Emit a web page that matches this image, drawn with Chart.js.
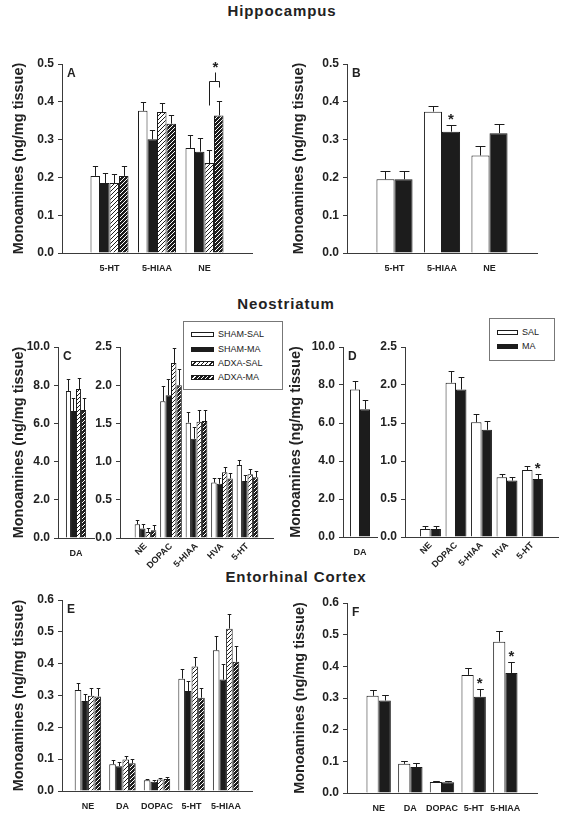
<!DOCTYPE html>
<html>
<head>
<meta charset="utf-8">
<script src="https://cdn.jsdelivr.net/npm/chart.js@4.4.1/dist/chart.umd.min.js"></script>
<style>
  body { margin: 0; background: #fff; }
  #page { position: relative; width: 563px; height: 815px; overflow: hidden; font-family: "Liberation Sans", Arial, sans-serif; color: #222; }
  #page canvas { position: absolute; }
  .region { position: absolute; transform: translateX(-50%); white-space: nowrap; font-weight: bold; font-size: 15px; line-height: 15px; letter-spacing: 0.9px; }
  .legend { position: absolute; border: 1px solid #777; background: #fff; z-index: 2; }
  .legend span { position: absolute; font-size: 9px; line-height: 9px; white-space: nowrap; }
  .legend i { position: absolute; box-sizing: border-box; border: 1px solid #1c1c1c; }
</style>
</head>
<body>
<div id="page"></div>
<script>
// ---- data ----
const GROUPS4 = ['SHAM-SAL', 'SHAM-MA', 'ADXA-SAL', 'ADXA-MA'];
const GROUPS2 = ['SAL', 'MA'];
const Y_LABEL = 'Monoamines (ng/mg tissue)';

// Hippocampus
const HIPPO_CATS = ['5-HT', '5-HIAA', 'NE'];
const HIPPO_Y_TICKS = [0, 0.1, 0.2, 0.3, 0.4, 0.5];
const A_SHAM_SAL = [0.204, 0.376, 0.278];
const A_SHAM_SAL_SEM = [0.025, 0.023, 0.034];
const A_SHAM_MA = [0.185, 0.301, 0.268];
const A_SHAM_MA_SEM = [0.026, 0.024, 0.036];
const A_ADXA_SAL = [0.185, 0.373, 0.238];
const A_ADXA_SAL_SEM = [0.025, 0.023, 0.035];
const A_ADXA_MA = [0.204, 0.342, 0.364];
const A_ADXA_MA_SEM = [0.027, 0.024, 0.037];
const B_SAL = [0.195, 0.374, 0.258];
const B_SAL_SEM = [0.021, 0.016, 0.024];
const B_MA = [0.195, 0.321, 0.317];
const B_MA_SEM = [0.023, 0.018, 0.025];

// Neostriatum
const DA_CATS = ['DA'];
const DA_Y_TICKS = [0, 2, 4, 6, 8, 10];
const STRI_CATS = ['NE', 'DOPAC', '5-HIAA', 'HVA', '5-HT'];
const STRI_Y_TICKS = [0, 0.5, 1, 1.5, 2, 2.5];
const C_DA = [7.7, 6.65, 7.8, 6.7];
const C_DA_SEM = [0.6, 0.7, 0.6, 0.65];
const C_SHAM_SAL = [0.18, 1.79, 1.51, 0.725, 0.955];
const C_SHAM_SAL_SEM = [0.055, 0.2, 0.14, 0.065, 0.065];
const C_SHAM_MA = [0.125, 1.87, 1.30, 0.71, 0.745];
const C_SHAM_MA_SEM = [0.06, 0.21, 0.15, 0.07, 0.08];
const C_ADXA_SAL = [0.08, 2.29, 1.52, 0.86, 0.835];
const C_ADXA_SAL_SEM = [0.045, 0.2, 0.15, 0.065, 0.065];
const C_ADXA_MA = [0.10, 2.0, 1.53, 0.78, 0.795];
const C_ADXA_MA_SEM = [0.065, 0.21, 0.15, 0.075, 0.08];
const D_DA = [7.76, 6.73];
const D_DA_SEM = [0.44, 0.49];
const D_SAL = [0.105, 2.03, 1.51, 0.785, 0.88];
const D_SAL_SEM = [0.043, 0.15, 0.11, 0.045, 0.06];
const D_MA = [0.105, 1.94, 1.41, 0.742, 0.763];
const D_MA_SEM = [0.043, 0.16, 0.11, 0.052, 0.062];

// Entorhinal cortex
const ENTO_CATS = ['NE', 'DA', 'DOPAC', '5-HT', '5-HIAA'];
const ENTO_Y_TICKS = [0, 0.1, 0.2, 0.3, 0.4, 0.5, 0.6];
const E_SHAM_SAL = [0.317, 0.084, 0.034, 0.353, 0.442];
const E_SHAM_SAL_SEM = [0.021, 0.013, 0.003, 0.029, 0.046];
const E_SHAM_MA = [0.283, 0.078, 0.029, 0.314, 0.350];
const E_SHAM_MA_SEM = [0.022, 0.013, 0.004, 0.032, 0.048];
const E_ADXA_SAL = [0.299, 0.099, 0.036, 0.391, 0.510];
const E_ADXA_SAL_SEM = [0.023, 0.012, 0.004, 0.029, 0.047];
const E_ADXA_MA = [0.297, 0.087, 0.038, 0.293, 0.406];
const E_ADXA_MA_SEM = [0.025, 0.015, 0.006, 0.031, 0.050];
const F_SAL = [0.307, 0.092, 0.035, 0.373, 0.478];
const F_SAL_SEM = [0.019, 0.008, 0.003, 0.021, 0.033];
const F_MA = [0.292, 0.082, 0.034, 0.304, 0.379];
const F_MA_SEM = [0.016, 0.012, 0.004, 0.023, 0.036];

// ---- drawing ----
Chart.defaults.font.family = '"Liberation Sans", Arial, sans-serif';
Chart.defaults.color = '#222';
Chart.defaults.animation = false;

const page = document.getElementById('page');
const INK = '#1c1c1c';
const AXIS = '#3a3a3a';

function hatch(bg, fg) {
  const c = document.createElement('canvas');
  c.width = 4; c.height = 4;
  const g = c.getContext('2d');
  g.fillStyle = bg; g.fillRect(0, 0, 4, 4);
  g.strokeStyle = fg; g.lineWidth = 1;
  g.beginPath();
  g.moveTo(0, 4); g.lineTo(4, 0);
  g.moveTo(-1, 1); g.lineTo(1, -1);
  g.moveTo(3, 5); g.lineTo(5, 3);
  g.stroke();
  return g.createPattern(c, 'repeat');
}
const FILL4 = ['#fff', INK, hatch('#fff', INK), hatch(INK, '#fff')];
const FILL2 = ['#fff', INK];

// error bars (upper half only) + asterisks + panel letter + bracket
const extras = {
  id: 'extras',
  afterDatasetsDraw(chart, args, o) {
    const { ctx, chartArea } = chart;
    const y = chart.scales.y;
    const errTop = (di, j) => {
      const ds = chart.data.datasets[di];
      return y.getPixelForValue(ds.data[j] + ds.sem[j]);
    };
    ctx.save();
    ctx.strokeStyle = INK;
    ctx.lineWidth = 1;
    chart.data.datasets.forEach((ds, i) => {
      chart.getDatasetMeta(i).data.forEach((bar, j) => {
        const x = Math.round(bar.x) + 0.5;
        const t = Math.round(errTop(i, j)) + 0.5;
        const cap = Math.max(3.5, bar.width * 0.55) / 2;
        ctx.beginPath();
        ctx.moveTo(x, bar.y);
        ctx.lineTo(x, t);
        ctx.moveTo(x - cap, t);
        ctx.lineTo(x + cap, t);
        ctx.stroke();
      });
    });
    ctx.fillStyle = '#222';
    ctx.textAlign = 'center';
    ctx.textBaseline = 'alphabetic';
    ctx.font = 'bold 15px "Liberation Sans", Arial, sans-serif';
    (o.stars || []).forEach(([di, j]) => {
      const bar = chart.getDatasetMeta(di).data[j];
      ctx.fillText('*', bar.x, errTop(di, j) - 1);
    });
    if (o.bracket) {
      const b = o.bracket;
      const xl = Math.round(chart.getDatasetMeta(b.left[0]).data[b.left[1]].x) + 0.5;
      const xr = Math.round(chart.getDatasetMeta(b.right[0]).data[b.right[1]].x) + 0.5;
      const py = v => Math.round(y.getPixelForValue(v)) + 0.5;
      const xm = Math.round((xl + xr) / 2) + 0.5;
      ctx.beginPath();
      ctx.moveTo(xl, py(b.yLeft)); ctx.lineTo(xl, py(b.yTop));
      ctx.lineTo(xr, py(b.yTop)); ctx.lineTo(xr, py(b.yRight));
      ctx.moveTo(xm, py(b.yTop)); ctx.lineTo(xm, py(b.yTick));
      ctx.stroke();
      ctx.fillText('*', xm, py(b.yTick) - 1);
    }
    if (o.letter) {
      ctx.textAlign = 'left';
      ctx.textBaseline = 'top';
      ctx.font = 'bold 12px "Liberation Sans", Arial, sans-serif';
      ctx.fillText(o.letter, chartArea.left + 5, chartArea.top + 4);
    }
    ctx.restore();
  }
};

function panel(p) {
  const [L, T, R, B] = p.area;
  const padL = 2, padT = 14, padR = 6, padB = 4;
  const cx = p.left, cy = T - padT;
  const yw = L - cx - padL;
  const w = R - cx + padR, h = B - cy + p.xh + padB;
  const cv = document.createElement('canvas');
  cv.width = w; cv.height = h;
  cv.style.left = cx + 'px'; cv.style.top = cy + 'px';
  cv.style.width = w + 'px'; cv.style.height = h + 'px';
  page.appendChild(cv);

  const titleFont = { size: 14.5, weight: 'bold' };
  const titleLH = titleFont.size * 1.2;

  new Chart(cv, {
    type: 'bar',
    data: {
      labels: p.cats.map((c, i) => i + 1),
      datasets: p.series.map((s, i) => ({
        label: p.groups[i],
        data: s[0],
        sem: s[1],
        backgroundColor: p.fills[i],
        borderColor: INK,
        borderWidth: 1,
        barPercentage: 1,
        categoryPercentage: p.catPct
      }))
    },
    options: {
      responsive: false,
      animation: false,
      events: [],
      layout: { padding: { left: padL, top: padT, right: padR, bottom: padB } },
      plugins: {
        legend: { display: false },
        tooltip: { enabled: false },
        extras: { letter: p.letter, stars: p.stars, bracket: p.bracket }
      },
      scales: {
        x: {
          type: 'linear',
          min: p.xmin,
          max: p.xmax,
          offset: false,
          afterBuildTicks: s => { s.ticks = p.cats.map((c, i) => ({ value: i + 1 })); },
          afterFit: s => { s.height = p.xh; },
          grid: { display: false, drawTicks: false },
          border: { display: true, color: AXIS, width: 1 },
          ticks: {
            autoSkip: false,
            minRotation: p.rot || 0,
            maxRotation: p.rot || 0,
            padding: p.rot ? 3 : 10,
            color: '#222',
            font: { size: 9, weight: 'bold' },
            callback: (v, i) => p.cats[i]
          }
        },
        y: {
          min: 0,
          max: p.yticks[p.yticks.length - 1],
          afterBuildTicks: s => { s.ticks = p.yticks.map(v => ({ value: v })); },
          afterFit: s => { s.width = yw; },
          grid: { drawOnChartArea: false, drawTicks: true, tickLength: 4, color: AXIS },
          border: { display: true, color: AXIS, width: 1 },
          ticks: {
            padding: 4,
            color: '#222',
            font: { size: 12, weight: 'bold' },
            callback: v => v.toFixed(1)
          },
          title: p.titleX ? {
            display: true,
            text: Y_LABEL,
            color: '#222',
            font: titleFont,
            padding: { top: p.titleX - cx - padL - titleLH / 2, bottom: 0 }
          } : { display: false }
        }
      }
    },
    plugins: [extras]
  });
}

function region(text, x, y) {
  const d = document.createElement('div');
  d.className = 'region';
  d.textContent = text;
  d.style.left = x + 'px';
  d.style.top = y + 'px';
  page.appendChild(d);
}

const SWATCH = [
  'background:#fff',
  'background:#1c1c1c',
  'background:repeating-linear-gradient(135deg,#fff 0 2px,#1c1c1c 2px 3px)',
  'background:repeating-linear-gradient(135deg,#1c1c1c 0 2px,#fff 2px 3px)'
];
function legend(x, y, w, h, labels, rows, swW) {
  const box = document.createElement('div');
  box.className = 'legend';
  Object.assign(box.style, { left: x + 'px', top: y + 'px', width: w + 'px', height: h + 'px' });
  labels.forEach((lab, i) => {
    const sw = document.createElement('i');
    sw.style.cssText = SWATCH[i] + `;left:7px;top:${rows[i] - y - 3}px;width:${swW}px;height:5px;`;
    const t = document.createElement('span');
    t.textContent = lab;
    t.style.left = (swW + 11) + 'px';
    t.style.top = (rows[i] - y - 5.5) + 'px';
    box.appendChild(sw);
    box.appendChild(t);
  });
  page.appendChild(box);
}

region('Hippocampus', 282, 3);
region('Neostriatum', 286, 296);
region('Entorhinal Cortex', 296, 569);

// A
panel({ area: [62, 64, 252, 253], left: 0, xh: 24, titleX: 18.5, letter: 'A',
  cats: HIPPO_CATS, yticks: HIPPO_Y_TICKS, xmin: 0, xmax: 4, catPct: 0.8,
  groups: GROUPS4, fills: FILL4,
  series: [[A_SHAM_SAL, A_SHAM_SAL_SEM], [A_SHAM_MA, A_SHAM_MA_SEM], [A_ADXA_SAL, A_ADXA_SAL_SEM], [A_ADXA_MA, A_ADXA_MA_SEM]],
  bracket: { left: [2, 2], right: [3, 2], yLeft: 0.392, yRight: 0.44, yTop: 0.456, yTick: 0.478 } });
// B
panel({ area: [347, 64, 537, 253], left: 284, xh: 24, titleX: 299, letter: 'B',
  cats: HIPPO_CATS, yticks: HIPPO_Y_TICKS, xmin: 0, xmax: 4, catPct: 0.76,
  groups: GROUPS2, fills: FILL2,
  series: [[B_SAL, B_SAL_SEM], [B_MA, B_MA_SEM]], stars: [[1, 1]] });
// C
panel({ area: [58, 347, 94, 538], left: 0, xh: 24, titleX: 19, letter: 'C',
  cats: DA_CATS, yticks: DA_Y_TICKS, xmin: 0, xmax: 2, catPct: 0.56,
  groups: GROUPS4, fills: FILL4,
  series: C_DA.map((v, i) => [[v], [C_DA_SEM[i]]]) });
panel({ area: [120, 347, 273, 538], left: 86, xh: 36, rot: 45,
  cats: STRI_CATS, yticks: STRI_Y_TICKS, xmin: 0, xmax: 6, catPct: 0.85,
  groups: GROUPS4, fills: FILL4,
  series: [[C_SHAM_SAL, C_SHAM_SAL_SEM], [C_SHAM_MA, C_SHAM_MA_SEM], [C_ADXA_SAL, C_ADXA_SAL_SEM], [C_ADXA_MA, C_ADXA_MA_SEM]] });
// D
panel({ area: [343, 347, 377, 537], left: 284, xh: 24, titleX: 296, letter: 'D',
  cats: DA_CATS, yticks: DA_Y_TICKS, xmin: 0, xmax: 2, catPct: 0.59,
  groups: GROUPS2, fills: FILL2,
  series: D_DA.map((v, i) => [[v], [D_DA_SEM[i]]]) });
panel({ area: [405, 347, 558, 537], left: 371, xh: 36, rot: 45,
  cats: STRI_CATS, yticks: STRI_Y_TICKS, xmin: 0, xmax: 6, catPct: 0.82,
  groups: GROUPS2, fills: FILL2,
  series: [[D_SAL, D_SAL_SEM], [D_MA, D_MA_SEM]], stars: [[1, 4]] });
// E
panel({ area: [62, 600, 252, 791], left: 0, xh: 24, titleX: 19, letter: 'E',
  cats: ENTO_CATS, yticks: ENTO_Y_TICKS, xmin: 0.25, xmax: 5.75, catPct: 0.765,
  groups: GROUPS4, fills: FILL4,
  series: [[E_SHAM_SAL, E_SHAM_SAL_SEM], [E_SHAM_MA, E_SHAM_MA_SEM], [E_ADXA_SAL, E_ADXA_SAL_SEM], [E_ADXA_MA, E_ADXA_MA_SEM]] });
// F
panel({ area: [347, 603, 537, 793], left: 284, xh: 24, titleX: 300, letter: 'F',
  cats: ENTO_CATS, yticks: ENTO_Y_TICKS, xmin: 0, xmax: 6, catPct: 0.77,
  groups: GROUPS2, fills: FILL2,
  series: [[F_SAL, F_SAL_SEM], [F_MA, F_MA_SEM]], stars: [[1, 3], [1, 4]] });

legend(183, 321, 98, 67, GROUPS4, [334, 349, 363, 377], 23);
legend(489, 318, 64, 41, GROUPS2, [332, 346], 21);
</script>
</body>
</html>
